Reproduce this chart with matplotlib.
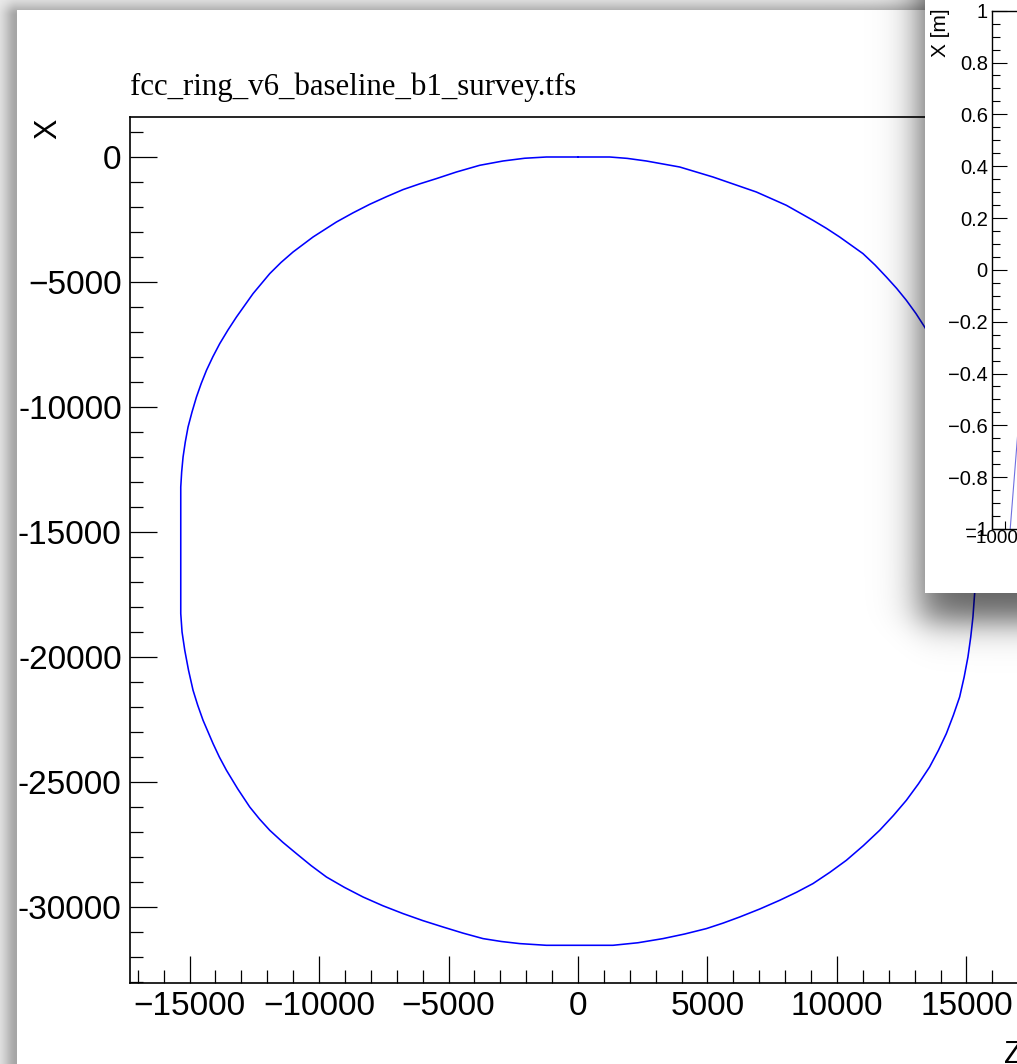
import numpy as np
import matplotlib
matplotlib.use("Agg")
import matplotlib.pyplot as plt
from matplotlib.ticker import MultipleLocator, FixedLocator, FixedFormatter

# ---------------- data ----------------
title_text = "fcc_ring_v6_baseline_b1_survey.tfs"

# (Z, X) survey points of the ring
ring_points = [
    (0, 0), (-1220, 0), (-2060, -50), (-2896, -160), (-3795, -332), (-4695, -600),
    (-5467, -864), (-6115, -1075), (-6757, -1304), (-7400, -1590), (-8042, -1892),
    (-8690, -2235), (-9328, -2600), (-10232, -3200), (-11004, -3800), (-11470, -4220),
    (-11903, -4664), (-12548, -5464), (-13189, -6400), (-13520, -6925), (-13834, -7464),
    (-14100, -7990), (-14347, -8532), (-14550, -9060), (-14734, -9600), (-14905, -10200),
    (-15058, -10800), (-15165, -11400), (-15251, -12000), (-15305, -12600), (-15340, -13200),
    (-15340, -18264), (-15290, -19000), (-15185, -19732), (-15040, -20530),
    (-14865, -21332), (-14685, -21930), (-14479, -22532), (-14093, -23464),
    (-13850, -24000), (-13575, -24532), (-13140, -25275), (-12676, -26000),
    (-12300, -26480), (-11903, -26932), (-11400, -27410), (-10873, -27864),
    (-10305, -28345), (-9714, -28800), (-9020, -29215), (-8301, -29600),
    (-7535, -29950), (-6757, -30264), (-5990, -30545), (-5212, -30800),
    (-4440, -31045), (-3668, -31264), (-2960, -31380), (-2251, -31464),
    (-1220, -31532), (0, -31532), (1351, -31532), (2316, -31430), (3282, -31264),
    (4120, -31080), (4958, -30864), (5600, -30645), (6243, -30400), (7020, -30080),
    (7788, -29732), (8440, -29410), (9073, -29064), (9730, -28610), (10363, -28132),
    (11020, -27545), (11649, -26932), (12180, -26340), (12680, -25732),
    (13145, -25075), (13577, -24400), (13915, -23740), (14224, -23064),
    (14495, -22330), (14737, -21600), (14912, -20800), (15058, -20000),
    (15166, -19200), (15251, -18400), (15317, -17452), (15317, -13200), (15295, -12600),
    (15251, -12000), (15165, -11400), (15058, -10800), (14905, -10200), (14734, -9600),
    (14550, -9060), (14347, -8532), (14110, -8060), (13850, -7600), (13386, -6800),
    (13050, -6260), (12680, -5732), (12305, -5255), (11908, -4800), (11470, -4320),
    (11004, -3864), (10104, -3200), (9595, -2855), (9073, -2532), (8046, -1932),
    (6888, -1400), (5212, -800), (3927, -400), (2641, -160), (1900, -55), (1224, 0),
    (0, 0),
]
ring_z = [p[0] for p in ring_points]
ring_x = [p[1] for p in ring_points]

main_xticks = [-15000, -10000, -5000, 0, 5000, 10000, 15000]
main_xticklabels = ["\u221215000", "\u221210000", "\u22125000", "0", "5000", "10000", "15000"]
main_yticks = [0, -5000, -10000, -15000, -20000, -25000, -30000]
main_yticklabels = ["0", "\u22125000", "-10000", "-15000", "-20000", "-25000", "-30000"]

inset_yticks = [1, 0.8, 0.6, 0.4, 0.2, 0, -0.2, -0.4, -0.6, -0.8, -1]
inset_yticklabels = ["1", "0.8", "0.6", "0.4", "0.2", "0", "\u22120.2", "\u22120.4",
                     "\u22120.6", "\u22120.8", "\u22121"]
inset_xticks = [-1000, -500, 0, 500, 1000]
inset_xticklabels = ["\u22121000", "\u2212500", "0", "500", "1000"]
inset_line_z = [-860, -800]
inset_line_x = [-1.0, -0.62]

# ---------------- figure ----------------
W, H = 1017, 1064
fig = plt.figure(figsize=(W / 100, H / 100), dpi=100)
fig.patch.set_facecolor("white")

def fx(px):
    return px / W

def fy(py):
    return 1 - py / H

SANS = ["Liberation Sans", "DejaVu Sans"]
SERIF = ["Liberation Serif", "DejaVu Serif"]

# main axes
ax = fig.add_axes([fx(130), fy(983), (1026 - 130) / W, (983 - 117) / H], zorder=1)
ax.plot(ring_z, ring_x, color="#0000ff", lw=1.15, solid_joinstyle="round")
ax.set_xlim(-17300, 17300)
ax.set_ylim(-33040, 1600)
ax.set_xticks(main_xticks)
ax.set_xticklabels(main_xticklabels, family=SANS, fontsize=24)
ax.set_yticks(main_yticks)
ax.set_yticklabels(main_yticklabels, family=SANS, fontsize=24)
ax.xaxis.set_minor_locator(MultipleLocator(1000))
ax.yaxis.set_minor_locator(MultipleLocator(1000))
ax.tick_params(which="major", direction="in", length=19.5, width=0.9, pad=6)
ax.tick_params(which="minor", direction="in", length=9.5, width=0.9)
ax.tick_params(axis="x", which="major", pad=6)
for s in ax.spines.values():
    s.set_linewidth(1.2)

fig.text(fx(130), fy(95), title_text, family=SERIF, fontsize=22.2,
         ha="left", va="baseline", zorder=7)
fig.text(fx(48), fy(129), "X", family=SANS, fontsize=22, rotation=90,
         ha="center", va="center", zorder=7)
fig.text(fx(1004), fy(1063), "Z", family=SANS, fontsize=22,
         ha="left", va="baseline", zorder=7)

# ---------------- overlay: window background & shadows ----------------
xx, yy = np.meshgrid(np.arange(W) + 0.5, np.arange(H) + 0.5)
rgba = np.zeros((H, W, 4))
inside_main = (xx >= 17) & (yy >= 10)
dx = np.clip(17 - xx, 0, None)
dy = np.clip(16 - yy, 0, None)
d = np.sqrt(dx ** 2 + dy ** 2)
alpha_m = 0.30 * np.exp(-(d / 13.0) ** 2)
gray = 0.925 * (1 - alpha_m)
sx = 0.5 * (1 + np.tanh((xx - 920) / 22.0))
sy = 0.5 * (1 + np.tanh((622 - yy) / 20.0))
alpha_i = 0.62 * sx * sy
out = ~inside_main
g_out = gray * (1 - alpha_i)
for c in range(3):
    rgba[..., c] = np.where(out, g_out, 0.0)
rgba[..., 3] = np.where(out, 1.0, alpha_i)
inset_win = (xx >= 925) & (yy < 593)
rgba[inset_win] = [1, 1, 1, 1]

ov = fig.add_axes([0, 0, 1, 1], zorder=5)
ov.imshow(rgba, extent=(0, W, H, 0), interpolation="nearest", aspect="auto")
ov.set_xlim(0, W)
ov.set_ylim(H, 0)
ov.axis("off")

# ---------------- inset window contents ----------------
ins = fig.add_axes([fx(992), fy(529), 260 / W, (529 - 10.7) / H], zorder=6)
ins.set_facecolor("white")
ins.plot(inset_line_z, inset_line_x, color="#6f6fe0", lw=0.8)
ins.set_xlim(-1000, 1000)
ins.set_ylim(-1, 1)
ins.yaxis.set_major_locator(FixedLocator(inset_yticks))
ins.yaxis.set_major_formatter(FixedFormatter(inset_yticklabels))
ins.xaxis.set_major_locator(FixedLocator(inset_xticks))
ins.xaxis.set_major_formatter(FixedFormatter(inset_xticklabels))
ins.yaxis.set_minor_locator(MultipleLocator(0.05))
ins.xaxis.set_minor_locator(MultipleLocator(100))
for lab in ins.get_yticklabels():
    lab.set_family(SANS)
    lab.set_fontsize(14.5)
for lab in ins.get_xticklabels():
    lab.set_family(SANS)
    lab.set_fontsize(13.5)
ins.tick_params(which="major", direction="in", length=10.8, width=0.8, pad=3)
ins.tick_params(which="minor", direction="in", length=5.5, width=0.8)
ins.tick_params(axis="x", which="major", pad=1)
for s in ins.spines.values():
    s.set_linewidth(1.0)
fig.text(fx(941), fy(8), "X [m]", family=SANS, fontsize=15, rotation=90,
         ha="center", va="top", zorder=8)

fig.savefig("out.png", dpi=100)
